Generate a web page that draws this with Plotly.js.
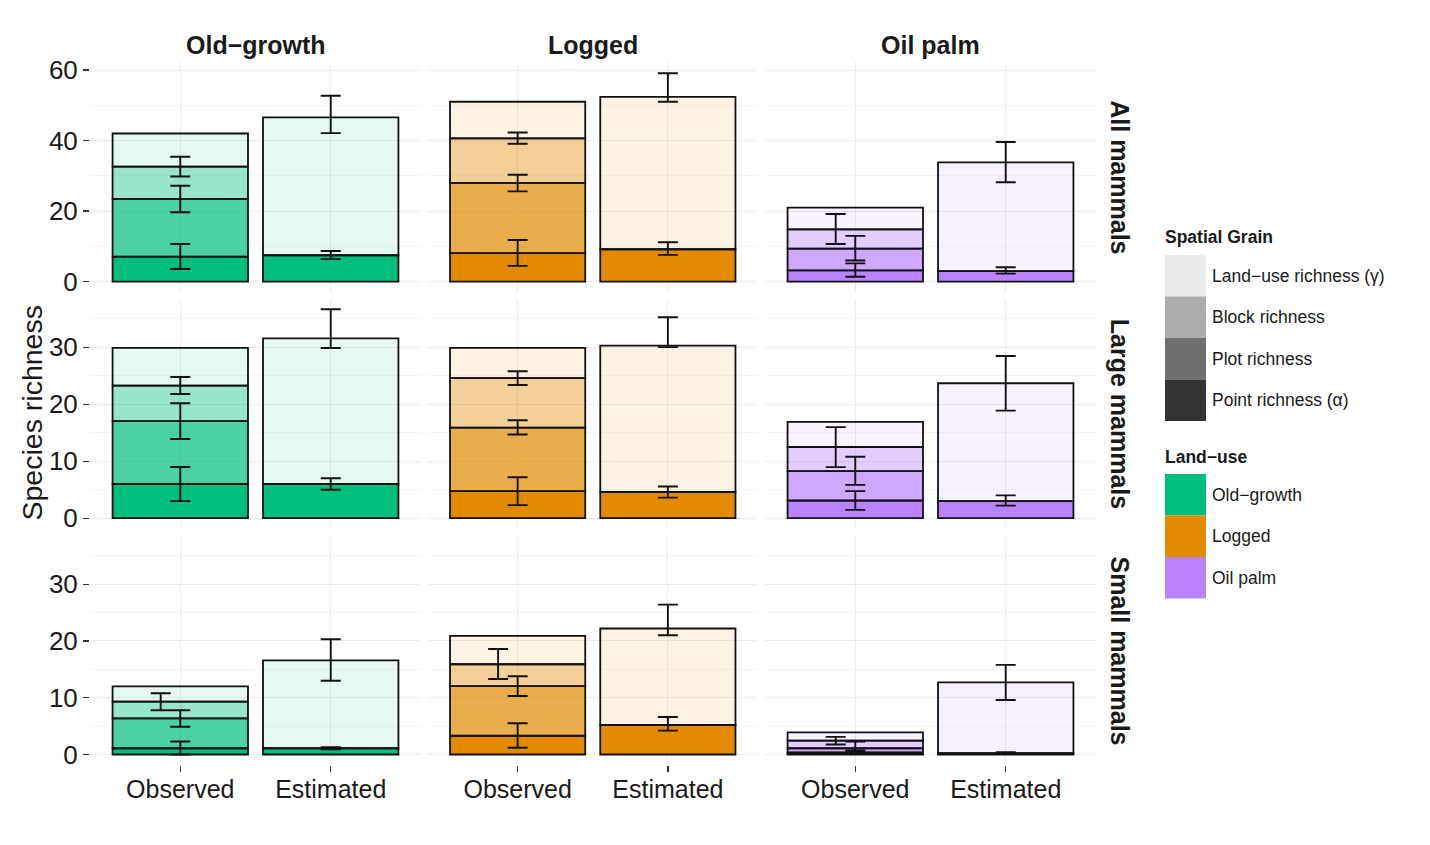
<!DOCTYPE html>
<html><head><meta charset="utf-8">
<script src="https://cdn.plot.ly/plotly-3.0.1.min.js"></script>
<style>body{margin:0;background:#fff}#chart{width:1430px;height:845px}</style>
</head><body><div id="chart"></div>
<script>
// ---------- categories & labels ----------
const rowLabels = ['All mammals', 'Large mammals', 'Small mammals'];
const landUses = ['Old\u2212growth', 'Logged', 'Oil palm'];
const grains = ['Land\u2212use richness (\u03b3)', 'Block richness', 'Plot richness', 'Point richness (\u03b1)'];
const xCategories = ['Observed', 'Estimated'];

// ---------- observed richness per land-use: [point, plot, block, land-use] ----------
const obsAll   = [[7.1, 23.5, 32.6, 42.0], [8.1, 28.0, 40.6, 51.0], [3.2, 9.35, 14.85, 21.0]];
const obsLarge = [[6.0, 17.05, 23.3, 29.9], [4.75, 15.9, 24.6, 29.9], [3.1, 8.25, 12.5, 16.9]];
const obsSmall = [[1.1, 6.35, 9.3, 12.0], [3.3, 12.05, 15.9, 20.9], [0.35, 1.1, 2.45, 3.9]];

// observed error limits [low, high] for [point, plot, block]
const obsErrAll   = [[[3.6, 10.7], [19.7, 27.2], [29.8, 35.4]], [[4.5, 11.8], [25.6, 30.3], [39.1, 42.3]], [[1.4, 5.2], [6.0, 13.0], [10.7, 19.2]]];
const obsErrLarge = [[[3.0, 9.0], [13.9, 20.2], [21.8, 24.8]], [[2.3, 7.2], [14.7, 17.2], [23.4, 25.8]], [[1.46, 4.75], [5.85, 10.8], [8.96, 16.0]]];
const obsErrSmall = [[[0.0, 2.3], [4.9, 7.8], [7.8, 10.8]], [[1.2, 5.5], [10.3, 13.8], [13.3, 18.6]], [[0.1, 0.7], [0.46, 2.3], [1.75, 3.1]]];

// ---------- estimated richness per land-use: [point, land-use] ----------
const estAll   = [[7.5, 46.6], [9.2, 52.4], [3.0, 33.8]];
const estLarge = [[6.0, 31.6], [4.6, 30.3], [3.0, 23.7]];
const estSmall = [[1.1, 16.6], [5.2, 22.2], [0.25, 12.7]];

// estimated error limits [low, high] for [point, land-use]
const estErrAll   = [[[6.4, 8.7], [42.1, 52.7]], [[7.6, 11.2], [51.0, 59.1]], [[2.3, 4.1], [28.2, 39.6]]];
const estErrLarge = [[[5.0, 7.0], [29.9, 36.7]], [[3.6, 5.55], [30.05, 35.3]], [[2.2, 4.0], [18.9, 28.5]]];
const estErrSmall = [[[0.9, 1.3], [13.0, 20.3]], [[4.2, 6.6], [21.0, 26.4]], [[0.1, 0.4], [9.6, 15.8]]];

// y tick labels per row
const yTicksRow1 = [0, 20, 40, 60];
const yTicksRow23 = [0, 10, 20, 30];

// ---------- styling ----------
const W = 1430, H = 845;
const FONT = 'Liberation Sans, Arial, Helvetica, sans-serif';
const landRGB = [[0, 190, 125], [227, 138, 0], [185, 131, 255]];
const layerAlpha = [1, 0.7, 0.4, 0.1];       // point, plot, block, land-use
const greyRGB = [51, 51, 51];
const colPx = [[90, 421], [427.5, 758], [765, 1096]];
const rowPx = [[62, 292.5], [299, 528.7], [536, 765]];
const yRanges = [[-3.06, 62.27], [-1.85, 38.5], [-1.85, 38.5]];
const yMinor = [10, 5, 5];
const blockShiftPanels = [[0, 2], [1, 2], [2, 0], [2, 1], [2, 2]];
const blockShift = -0.13;

const obsRows = [obsAll, obsLarge, obsSmall];
const obsErrRows = [obsErrAll, obsErrLarge, obsErrSmall];
const estRows = [estAll, estLarge, estSmall];
const estErrRows = [estErrAll, estErrLarge, estErrSmall];
const yTickRows = [yTicksRow1, yTicksRow23, yTicksRow23];

function rgba(c, a) { return 'rgba(' + c[0] + ',' + c[1] + ',' + c[2] + ',' + a + ')'; }
function mix(c, a) { return 'rgb(' + c.map(v => Math.round(v * a + 255 * (1 - a))).join(',') + ')'; }

const traces = [];
const layout = {
  width: W, height: H, margin: {l: 0, r: 0, t: 0, b: 0},
  paper_bgcolor: '#fff', plot_bgcolor: 'rgba(0,0,0,0)',
  barmode: 'overlay', showlegend: false, hovermode: false,
  font: {family: FONT, color: '#1a1a1a'},
  annotations: [], shapes: []
};

const lineStyle = {color: '#111', width: 1.8};

for (let r = 0; r < 3; r++) {
  for (let c = 0; c < 3; c++) {
    const p = r * 3 + c;
    const xa = p === 0 ? 'x' : 'x' + (p + 1);
    const ya = p === 0 ? 'y' : 'y' + (p + 1);
    const obs = obsRows[r][c];
    const est = estRows[r][c];
    const col = landRGB[c];

    for (let k = 0; k < 4; k++) {
      const lower = k === 0 ? 0 : obs[k - 1];
      traces.push({
        type: 'bar', x: [1], y: [obs[k] - lower], base: [lower], width: 0.9,
        xaxis: xa, yaxis: ya,
        marker: {color: rgba(col, layerAlpha[k]), line: lineStyle}
      });
    }
    traces.push({
      type: 'bar', x: [2], y: [est[0]], base: [0], width: 0.9, xaxis: xa, yaxis: ya,
      marker: {color: rgba(col, layerAlpha[0]), line: lineStyle}
    });
    traces.push({
      type: 'bar', x: [2], y: [est[1] - est[0]], base: [est[0]], width: 0.9, xaxis: xa, yaxis: ya,
      marker: {color: rgba(col, layerAlpha[3]), line: lineStyle}
    });

    const shifted = blockShiftPanels.some(q => q[0] === r && q[1] === c);
    const ex = [], ey = [], eplus = [], eminus = [];
    const oe = obsErrRows[r][c];
    for (let k = 0; k < 3; k++) {
      ex.push(1 + (k === 2 && shifted ? blockShift : 0));
      ey.push(obs[k]);
      eplus.push(Math.max(0, oe[k][1] - obs[k]));
      eminus.push(Math.max(0, obs[k] - oe[k][0]));
    }
    const ee = estErrRows[r][c];
    for (let k = 0; k < 2; k++) {
      ex.push(2);
      ey.push(est[k]);
      eplus.push(Math.max(0, ee[k][1] - est[k]));
      eminus.push(Math.max(0, est[k] - ee[k][0]));
    }
    traces.push({
      type: 'scatter', mode: 'markers', x: ex, y: ey, xaxis: xa, yaxis: ya,
      marker: {size: 1, opacity: 0},
      error_y: {type: 'data', symmetric: false, array: eplus, arrayminus: eminus,
                color: '#111', thickness: 1.9, width: 10}
    });

    const xKey = p === 0 ? 'xaxis' : 'xaxis' + (p + 1);
    const yKey = p === 0 ? 'yaxis' : 'yaxis' + (p + 1);
    layout[xKey] = {
      domain: [colPx[c][0] / W, colPx[c][1] / W], anchor: ya,
      range: [0.4, 2.6], tickmode: 'array', tickvals: [1, 2], ticktext: xCategories,
      showticklabels: r === 2, ticks: r === 2 ? 'outside' : '', ticklen: 6, tickwidth: 1.3, tickcolor: '#333',
      ticklabelstandoff: -4,
      tickfont: {size: 25, family: FONT, color: '#1a1a1a'},
      showgrid: true, gridcolor: '#ebebeb', gridwidth: 1, zeroline: false, showline: false, fixedrange: true
    };
    layout[yKey] = {
      domain: [1 - rowPx[r][1] / H, 1 - rowPx[r][0] / H], anchor: xa,
      range: yRanges[r], tickmode: 'array', tickvals: yTickRows[r], ticktext: yTickRows[r].map(String),
      showticklabels: c === 0, ticks: c === 0 ? 'outside' : '', ticklen: 6, tickwidth: 1.3, tickcolor: '#333',
      tickfont: {size: 26, family: FONT, color: '#1a1a1a'},
      showgrid: true, gridcolor: '#ebebeb', gridwidth: 1, zeroline: false, showline: false, fixedrange: true,
      minor: {tickmode: 'linear', tick0: 0, dtick: yMinor[r], showgrid: true, gridcolor: '#f5f5f5', gridwidth: 1, ticks: ''}
    };
  }
}

for (let c = 0; c < 3; c++) {
  layout.annotations.push({
    xref: 'paper', yref: 'paper', x: (colPx[c][0] + colPx[c][1]) / 2 / W, y: 1 - 45 / H,
    text: '<b>' + landUses[c] + '</b>', showarrow: false, xanchor: 'center', yanchor: 'middle',
    font: {size: 25, family: FONT, color: '#1a1a1a'}
  });
}
for (let r = 0; r < 3; r++) {
  layout.annotations.push({
    xref: 'paper', yref: 'paper', x: 1120 / W, y: 1 - (rowPx[r][0] + rowPx[r][1]) / 2 / H,
    text: '<b>' + rowLabels[r] + '</b>', showarrow: false, textangle: 90,
    xanchor: 'center', yanchor: 'middle', font: {size: 25, family: FONT, color: '#1a1a1a'}
  });
}
layout.annotations.push({
  xref: 'paper', yref: 'paper', x: 31 / W, y: 1 - 413.5 / H, text: 'Species richness',
  showarrow: false, textangle: -90, xanchor: 'center', yanchor: 'middle',
  font: {size: 28.5, family: FONT, color: '#1a1a1a'}
});

function legendBlock(title, titleY, labels, colors, top) {
  layout.annotations.push({
    xref: 'paper', yref: 'paper', x: 1163 / W, y: 1 - titleY / H, text: '<b>' + title + '</b>',
    showarrow: false, xanchor: 'left', yanchor: 'middle', font: {size: 17.5, family: FONT, color: '#1a1a1a'}
  });
  const step = 41.5;
  labels.forEach((lab, i) => {
    const y0 = top + i * step, y1 = y0 + step;
    layout.shapes.push({
      type: 'rect', xref: 'paper', yref: 'paper', x0: 1165 / W, x1: 1206 / W,
      y0: 1 - y1 / H, y1: 1 - y0 / H, fillcolor: colors[i], line: {width: 0}
    });
    layout.annotations.push({
      xref: 'paper', yref: 'paper', x: 1210 / W, y: 1 - (y0 + step / 2) / H, text: lab,
      showarrow: false, xanchor: 'left', yanchor: 'middle', font: {size: 17.5, family: FONT, color: '#1a1a1a'}
    });
  });
}
legendBlock('Spatial Grain', 237, grains, [0.1, 0.4, 0.7, 1].map(a => mix(greyRGB, a)), 255);
legendBlock('Land\u2212use', 457, landUses, landRGB.map(c => mix(c, 1)), 474);

Plotly.newPlot('chart', traces, layout, {staticPlot: true, displayModeBar: false});
</script>
</body></html>
